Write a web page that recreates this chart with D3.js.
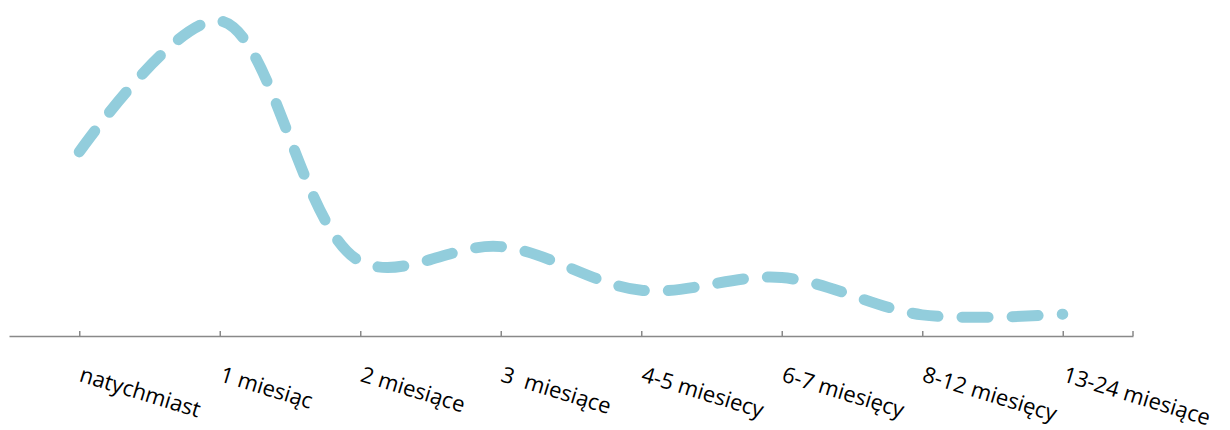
<!DOCTYPE html>
<html>
<head>
<meta charset="utf-8">
<script src="https://cdn.jsdelivr.net/npm/d3@7"></script>
<style>
  html, body { margin: 0; padding: 0; background: #fff; }
  svg { display: block; }
</style>
</head>
<body>
<svg id="chart" width="1230" height="430"></svg>
<script>
const categories = ["natychmiast", "1 miesiąc", "2 miesiące", "3  miesiące", "4-5 miesiecy", "6-7 miesięcy", "8-12 miesięcy", "13-24 miesiące"];
const values = [54.8, 93.8, 22.2, 26.6, 13.6, 17.4, 6.3, 6.5];

const svg = d3.select("#chart");
const axisY = 336;
const x = d3.scalePoint().domain(categories).range([9, 1133]).padding(0.5);
const y = d3.scaleLinear().domain([0, 100]).range([axisY, 0]);

// axis
const axis = d3.axisBottom(x).tickSizeInner(-5).tickSizeOuter(0).tickFormat("");
const gAxis = svg.append("g").attr("transform", `translate(0,${axisY})`).call(axis);
gAxis.select(".domain").attr("stroke", "#898989").attr("stroke-width", 1.5);
gAxis.selectAll(".tick line").attr("stroke", "#898989").attr("stroke-width", 1.5);
gAxis.append("line").attr("x1", x.range()[1]).attr("x2", x.range()[1]).attr("y1", 0).attr("y2", -5)
  .attr("stroke", "#898989").attr("stroke-width", 1.5);

// labels
svg.append("g").selectAll("text").data(categories).join("text")
  .attr("transform", d => `translate(${x(d) - 1},381) rotate(17)`)
  .attr("text-anchor", "start")
  .attr("font-family", "'Open Sans', sans-serif")
  .attr("font-size", 22)
  .attr("fill", "#000")
  .style("white-space", "pre")
  .attr("xml:space", "preserve")
  .text(d => d);

// line
const line = d3.line()
  .x((d, i) => x(categories[i]))
  .y(d => y(d))
  .curve(d3.curveCatmullRom.alpha(0.5));

svg.append("path")
  .datum(values)
  .attr("fill", "none")
  .attr("stroke", "#92CDDC")
  .attr("stroke-width", 11)
  .attr("stroke-linecap", "round")
  .attr("stroke-dasharray", "26 24")
  .attr("d", line);
</script>
</body>
</html>
